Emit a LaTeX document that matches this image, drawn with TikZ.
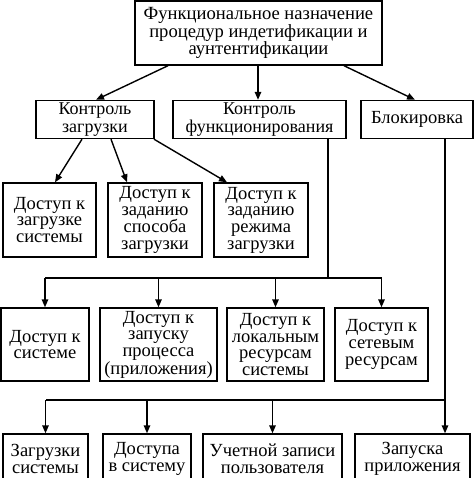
\documentclass[tikz,border=0pt]{standalone}
\usepackage{fontspec}
\setmainfont{Liberation Serif}
\usetikzlibrary{arrows.meta}
\begin{document}
\begin{tikzpicture}[x=1pt,y=-1pt,
  box/.style={draw=black,line width=1.4pt,fill=white,inner sep=0pt,align=center,
    font=\fontsize{18.5}{16.7}\selectfont},
  conn/.style={line width=1.4pt},
  arr/.style={line width=1.4pt,-{Triangle[length=8pt,width=6.5pt]}}]
\useasboundingbox[fill=white] (0,0) rectangle (474,478);
% top
\node[box,minimum width=247pt,minimum height=64pt,font=\fontsize{18.6}{16.5}\selectfont] (top) at (258.5,33) {Функциональное назначение\\процедур индетификации и\\аунтентификации};
% row 2
\node[box,minimum width=118pt,minimum height=38pt,font=\fontsize{18}{17.5}\selectfont] (kz) at (95,119.5) {Контроль\\загрузки};
\node[box,minimum width=173pt,minimum height=38pt,font=\fontsize{18}{17.5}\selectfont] (kf) at (259.5,119.5) {Контроль\\функционирования};
\node[box,minimum width=112pt,minimum height=38pt] (bl) at (417,119.5) {Блокировка};
% row 3
\node[box,minimum width=93pt,minimum height=74pt] (r3a) at (49.5,220) {Доступ к\\загрузке\\системы};
\node[box,minimum width=94pt,minimum height=74pt] (r3b) at (155,220) {Доступ к\\заданию\\способа\\загрузки};
\node[box,minimum width=94pt,minimum height=74pt] (r3c) at (261,220) {Доступ к\\заданию\\режима\\загрузки};
% row 4
\node[box,minimum width=88pt,minimum height=73pt] (r4a) at (45,344.5) {Доступ к\\системе};
\node[box,minimum width=117pt,minimum height=73pt] (r4b) at (158.5,344.5) {Доступ к\\запуску\\процесса\\(приложения)};
\node[box,minimum width=97pt,minimum height=73pt] (r4c) at (275.5,344.5) {Доступ к\\локальным\\ресурсам\\системы};
\node[box,minimum width=93pt,minimum height=73pt] (r4d) at (381.5,344.5) {Доступ к\\сетевым\\ресурсам};
% row 5
\node[box,minimum width=85pt,minimum height=50pt] (r5a) at (45.5,459) {Загрузки\\системы};
\node[box,minimum width=88pt,minimum height=50pt] (r5b) at (147,459) {Доступа\\в систему};
\node[box,minimum width=139pt,minimum height=50pt] (r5c) at (272.5,459) {Учетной записи\\пользователя};
\node[box,minimum width=115pt,minimum height=50pt] (r5d) at (412.5,459) {Запуска\\приложения};
% arrows from top
\draw[arr] ([xshift=-90.5]top.south) -- ([xshift=1]kz.north);
\draw[arr] ([xshift=-0.5]top.south) -- ([xshift=-1.5]kf.north);
\draw[arr] ([xshift=85.5]top.south) -- ([xshift=-2]bl.north);
% from kz
\draw[arr] ([xshift=-13]kz.south) -- ([xshift=5.5]r3a.north);
\draw[arr] ([xshift=16]kz.south) -- ([xshift=-28]r3b.north);
\draw[arr] ([xshift=59]kz.south) -- ([xshift=-34]r3c.north);
% from kf bus
\coordinate (kfb) at ([xshift=68.5]kf.south);
\coordinate (j1) at (328,278);
\draw[conn] (kfb) -- (j1);
\draw[conn] (j1 -| r4a.north) -- (j1 -| r4d.north);
\foreach \n in {r4a,r4b,r4c,r4d} \draw[arr] (j1 -| \n.north) -- (\n.north);
% from bl bus
\coordinate (blb) at ([xshift=28]bl.south);
\coordinate (j2) at (445,400);
\draw[arr] (blb) -- ([xshift=32.5]r5d.north);
\draw[conn] (j2) -- (j2 -| r5a.north);
\foreach \n in {r5a,r5b,r5c} \draw[arr] (j2 -| \n.north) -- (\n.north);
\end{tikzpicture}
\end{document}
